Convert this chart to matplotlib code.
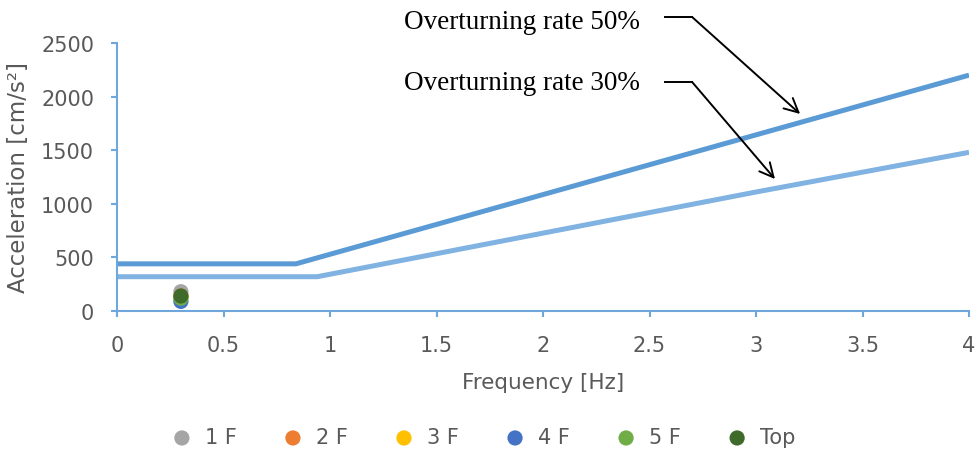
import matplotlib.pyplot as plt

# threshold curves (frequency Hz, acceleration cm/s^2)
freq_50 = [0, 0.84, 4]
acc_50 = [440, 440, 2200]
freq_30 = [0, 0.94, 3, 4]
acc_30 = [320, 320, 1110, 1480]

# measured floor responses
floors = ["1 F", "2 F", "3 F", "4 F", "5 F", "Top"]
floor_freq = [0.3, 0.3, 0.3, 0.3, 0.3, 0.3]
floor_acc = [180, 140, 135, 90, 120, 140]
floor_colors = ["#A5A5A5", "#ED7D31", "#FFC000", "#4472C4", "#70AD47", "#3F6B2A"]

axis_blue = "#6FA6DC"
text_gray = "#595959"
sans = "DejaVu Sans"

fig = plt.figure(figsize=(9.8, 4.52), dpi=100)
ax = fig.add_axes([0.1194, 0.3097, 0.8694, 0.593])

ax.plot(freq_50, acc_50, color="#5B9BD5", lw=3.6, solid_capstyle="butt", zorder=2)
ax.plot(freq_30, acc_30, color="#80B2E2", lw=3.6, solid_capstyle="butt", zorder=2)

for name, x, y, c in zip(floors, floor_freq, floor_acc, floor_colors):
    ax.scatter(x, y, s=120, color=c, label=name, zorder=3, edgecolors="none")

ax.set_xlim(0, 4)
ax.set_ylim(0, 2500)
ax.set_xticks([0, 0.5, 1, 1.5, 2, 2.5, 3, 3.5, 4])
ax.set_xticklabels(["0", "0.5", "1", "1.5", "2", "2.5", "3", "3.5", "4"])
ax.set_yticks([0, 500, 1000, 1500, 2000, 2500])

for side in ["top", "right"]:
    ax.spines[side].set_visible(False)
for side in ["left", "bottom"]:
    ax.spines[side].set_color(axis_blue)
    ax.spines[side].set_linewidth(1.5)
ax.tick_params(axis="both", direction="out", length=4.5, width=1.5, color=axis_blue,
               labelcolor=text_gray, labelsize=15)
ax.tick_params(axis="x", pad=13)
ax.tick_params(axis="y", pad=12)
for lbl in ax.get_xticklabels() + ax.get_yticklabels():
    lbl.set_fontfamily(sans)

ax.set_xlabel("Frequency [Hz]", fontsize=15.5, color=text_gray, family=sans, labelpad=12)
ax.set_ylabel("Acceleration [cm/s²]", fontsize=16.5, color=text_gray, family=sans, labelpad=8)

# annotations with elbow leader lines
notes = [
    ("Overturning rate 50%", 2705, 2742, 3.207, 1838),
    ("Overturning rate 30%", 2136, 2136, 3.089, 1231),
]
for text, ty, ly, tipx, tipy in notes:
    ax.text(2.455, ty, text, family="Liberation Serif", fontsize=19.5, ha="right",
            va="center", color="black", clip_on=False)
    ax.plot([2.573, 2.70], [ly, ly], color="black", lw=1.4, clip_on=False)
    ax.annotate("", xy=(tipx, tipy), xytext=(2.70, ly), annotation_clip=False,
                arrowprops=dict(arrowstyle="->,head_length=1.0,head_width=0.5",
                                color="black", lw=1.4, shrinkA=0, shrinkB=0))

leg = fig.legend(loc="center", bbox_to_anchor=(0.488, 0.03), ncol=6, frameon=False,
                 prop={"family": sans, "size": 15}, handletextpad=0.1,
                 columnspacing=1.7, markerscale=1.0)
for t in leg.get_texts():
    t.set_color(text_gray)

fig.savefig("out.png", dpi=100)
